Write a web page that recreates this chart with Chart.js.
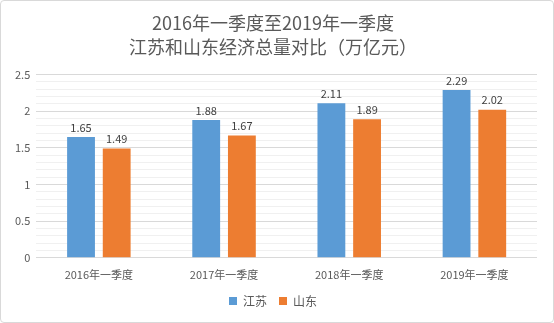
<!DOCTYPE html>
<html>
<head>
<meta charset="utf-8">
<script src="https://cdn.jsdelivr.net/npm/chart.js@4/dist/chart.umd.min.js"></script>
<style>
    html, body { margin: 0; padding: 0; background: #fff; }
    #wrap {
        width: 554px; height: 323px; box-sizing: border-box;
        border: 1px solid #d9d9d9; border-radius: 4px; position: relative;
    }
</style>
</head>
<body>
<div id="wrap"><canvas id="gdpChart"></canvas></div>
<script>
const quarters = ["2016年一季度", "2017年一季度", "2018年一季度", "2019年一季度"];
const jiangsu = [1.65, 1.88, 2.11, 2.29];
const shandong = [1.49, 1.67, 1.89, 2.02];
const titleLines = ["2016年一季度至2019年一季度", "江苏和山东经济总量对比（万亿元）"];

const fontFamily = "'Noto Sans CJK SC', 'Liberation Sans', sans-serif";

// prints each bar's value just above it
const valueLabels = {
    id: "valueLabels",
    afterDatasetsDraw(chart) {
        const ctx = chart.ctx;
        ctx.save();
        ctx.font = "11px " + fontFamily;
        ctx.fillStyle = "#404040";
        ctx.textAlign = "center";
        ctx.textBaseline = "bottom";
        chart.data.datasets.forEach((ds, i) => {
            chart.getDatasetMeta(i).data.forEach((bar, j) => {
                ctx.fillText(ds.data[j].toFixed(2), bar.x, bar.y - 4);
            });
        });
        ctx.restore();
    }
};

const ctx = document.getElementById("gdpChart").getContext("2d");
new Chart(ctx, {
    type: "bar",
    data: {
        labels: quarters,
        datasets: [
            { label: "江苏", data: jiangsu, backgroundColor: "#5b9bd5" },
            { label: "山东", data: shandong, backgroundColor: "#ed7d31" }
        ]
    },
    options: {
        responsive: true,
        maintainAspectRatio: false,
        animation: false,
        categoryPercentage: 0.57,
        barPercentage: 0.78,
        layout: { padding: { left: 8, right: 16, top: 6, bottom: 5 } },
        scales: {
            x: {
                grid: { display: false },
                border: { display: false },
                ticks: { padding: 2, color: "#595959", font: { family: fontFamily, size: 11 } }
            },
            y: {
                min: 0,
                max: 2.5,
                border: { display: false },
                ticks: {
                    stepSize: 0.1,
                    autoSkip: false,
                    padding: 6,
                    color: "#595959",
                    font: { family: fontFamily, size: 11 },
                    callback: v => {
                        const r = Math.round(v * 10);
                        return r % 5 === 0 ? String(r / 10) : "";
                    }
                },
                grid: {
                    drawTicks: false,
                    color: c => Math.round(c.tick.value * 10) % 5 === 0 ? "#d9d9d9" : "#f0f0f0"
                }
            }
        },
        plugins: {
            title: {
                display: true,
                text: titleLines,
                color: "#595959",
                font: { family: fontFamily, size: 18, weight: "normal", lineHeight: 1.35 },
                padding: { top: 4, bottom: 15 }
            },
            legend: {
                position: "bottom",
                labels: {
                    boxWidth: 8,
                    boxHeight: 8,
                    padding: 12,
                    color: "#595959",
                    font: { family: fontFamily, size: 12 }
                }
            },
            tooltip: { enabled: false }
        }
    },
    plugins: [valueLabels]
});
</script>
</body>
</html>
